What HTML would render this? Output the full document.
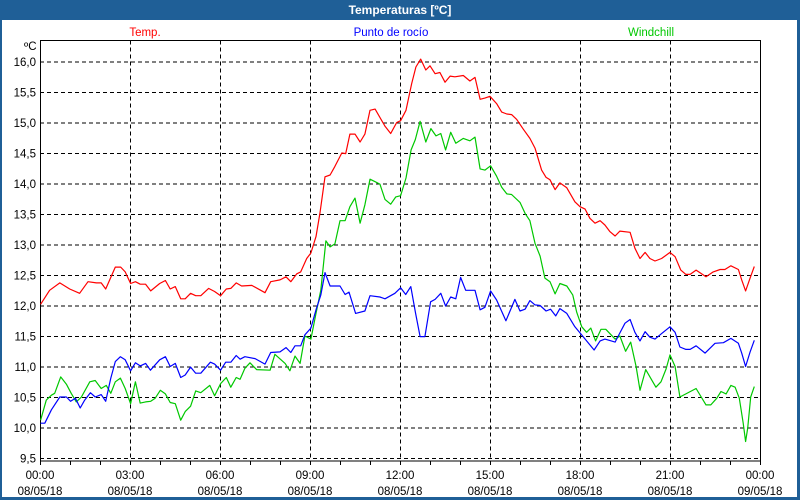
<!DOCTYPE html>
<html><head><meta charset="utf-8"><style>
body{margin:0;width:800px;height:500px;overflow:hidden;background:#fff;font-family:"Liberation Sans",sans-serif}
#wrap{position:absolute;left:0;top:0;width:800px;height:500px;background:#1f5f97}
#panel{position:absolute;left:2px;top:20px;width:795px;height:477px;background:#fff}
#title{position:absolute;left:0;top:0;width:800px;height:20px;line-height:20px;text-align:center;color:#fff;font-weight:bold;font-size:12px}
svg{position:absolute;left:0;top:0}
</style></head><body>
<div id="wrap">
<div id="title">Temperaturas [ºC]</div>
<div id="panel"></div>
<svg id="chart" width="800" height="500"></svg>
</div>
<script>
const yTicks=[9.5,10,10.5,11,11.5,12,12.5,13,13.5,14,14.5,15,15.5,16];
const xTickHours=[0,3,6,9,12,15,18,21,24];
const xTickTimes=["00:00","03:00","06:00","09:00","12:00","15:00","18:00","21:00","00:00"];
const xTickDates=["08/05/18","08/05/18","08/05/18","08/05/18","08/05/18","08/05/18","08/05/18","08/05/18","09/05/18"];
const seriesNames=["Temp.","Punto de rocío","Windchill"];
const tempH=[.02,.32,.66,.99,1.32,1.6,1.88,2.04,2.19,2.51,2.69,2.84,3.02,3.18,3.34,3.52,3.69,3.99,4.18,4.34,4.51,4.69,4.84,5.02,5.19,5.36,5.62,5.82,6.02,6.21,6.36,6.54,6.72,7.06,7.5,7.69,8,8.2,8.36,8.56,8.69,8.89,9.03,9.2,9.33,9.5,9.67,9.83,10.06,10.19,10.33,10.5,10.67,10.83,11,11.17,11.5,11.69,11.89,12.02,12.2,12.39,12.53,12.69,12.86,13,13.17,13.33,13.5,13.67,13.83,14.11,14.33,14.5,14.67,14.83,15,15.22,15.39,15.56,15.72,15.89,16.11,16.33,16.5,16.72,16.87,17,17.17,17.33,17.56,17.83,18,18.17,18.33,18.5,18.67,18.83,19,19.17,19.33,19.67,19.83,20,20.17,20.33,20.5,20.72,21,21.17,21.36,21.53,21.67,21.87,22.2,22.44,22.67,22.83,23.03,23.28,23.39,23.52,23.67,23.81];
const tempV=[12.02,12.25,12.37,12.27,12.2,12.39,12.37,12.37,12.27,12.63,12.63,12.55,12.36,12.39,12.35,12.35,12.24,12.36,12.41,12.27,12.31,12.11,12.11,12.2,12.16,12.16,12.28,12.23,12.16,12.27,12.28,12.37,12.32,12.33,12.21,12.39,12.42,12.47,12.39,12.52,12.55,12.77,12.86,13.13,13.51,14.11,14.14,14.28,14.5,14.49,14.81,14.81,14.68,14.81,15.2,15.22,14.94,14.82,15,15.03,15.2,15.64,15.91,16.04,15.86,15.93,15.8,15.82,15.66,15.76,15.75,15.77,15.68,15.74,15.38,15.4,15.43,15.31,15.17,15.14,15.13,15.05,14.89,14.74,14.58,14.22,14.1,14.06,13.9,14.01,13.93,13.7,13.62,13.58,13.43,13.35,13.39,13.32,13.21,13.14,13.22,13.2,12.94,12.77,12.87,12.77,12.73,12.77,12.87,12.8,12.58,12.51,12.51,12.58,12.47,12.55,12.59,12.59,12.65,12.59,12.42,12.24,12.45,12.64];
const dewH=[.02,.16,.38,.66,.88,1.02,1.18,1.34,1.49,1.68,1.84,2.04,2.19,2.36,2.51,2.68,2.84,3.02,3.18,3.34,3.52,3.68,3.99,4.18,4.34,4.51,4.69,4.84,5.02,5.19,5.36,5.68,5.82,6.02,6.19,6.36,6.54,6.67,6.83,7.17,7.5,7.69,8,8.2,8.36,8.5,8.69,8.83,9.03,9.2,9.36,9.5,9.67,10,10.17,10.3,10.52,10.83,11,11.33,11.5,11.83,12.02,12.19,12.36,12.52,12.67,12.83,13.02,13.17,13.36,13.52,13.69,13.86,14.02,14.19,14.5,14.67,14.83,15.02,15.22,15.53,15.83,16,16.17,16.33,16.5,16.67,16.87,17.02,17.19,17.33,17.56,17.83,18,18.22,18.47,18.67,18.83,19.17,19.33,19.5,19.67,19.83,20,20.17,20.33,20.5,20.72,21,21.17,21.33,21.53,21.67,21.87,22.17,22.5,22.78,23.03,23.28,23.39,23.52,23.67,23.81];
const dewV=[10.07,10.07,10.29,10.5,10.5,10.43,10.48,10.32,10.45,10.57,10.5,10.54,10.43,10.81,11.08,11.16,11.11,10.93,11.06,11.01,11.05,10.94,11.11,11.16,11,11.05,10.82,10.86,10.99,10.89,10.89,11.07,11.04,10.94,11.07,11.07,11.18,11.12,11.16,11.13,11.04,11.23,11.24,11.31,11.23,11.34,11.34,11.52,11.63,11.93,12.17,12.54,12.32,12.32,12.18,12.22,11.87,11.91,12.16,12.14,12.11,12.2,12.29,12.18,12.31,11.87,11.49,11.49,12.06,12.1,12.2,11.99,12.14,12.11,12.46,12.25,12.25,11.93,11.97,12.24,12.09,11.75,12.1,11.91,11.94,12.08,12.01,12,11.91,11.94,11.83,11.95,11.87,11.65,11.55,11.42,11.27,11.42,11.45,11.4,11.55,11.71,11.77,11.56,11.42,11.57,11.48,11.45,11.54,11.65,11.56,11.32,11.28,11.28,11.34,11.22,11.38,11.39,11.46,11.38,11.22,11,11.24,11.43];
const windH=[.02,.21,.38,.49,.69,.88,1.04,1.21,1.38,1.66,1.84,2.04,2.21,2.36,2.51,2.68,2.84,3.02,3.18,3.34,3.52,3.69,3.84,4.01,4.18,4.34,4.51,4.69,4.84,5.02,5.19,5.36,5.66,5.82,6.02,6.21,6.36,6.54,6.67,6.83,7,7.22,7.67,7.83,8.17,8.33,8.5,8.67,8.83,9.03,9.2,9.36,9.53,9.67,9.83,10,10.17,10.33,10.5,10.67,10.83,11,11.17,11.33,11.5,11.69,11.86,12.02,12.2,12.37,12.51,12.67,12.86,13.03,13.2,13.36,13.52,13.69,13.86,14.11,14.33,14.5,14.67,14.83,15.02,15.22,15.39,15.56,15.72,16,16.17,16.33,16.5,16.67,16.83,17,17.17,17.33,17.56,17.76,17.89,18.06,18.22,18.36,18.52,18.7,18.86,19.17,19.33,19.52,19.69,19.87,20,20.19,20.53,20.7,20.87,21,21.17,21.33,21.87,22.2,22.36,22.56,22.7,22.87,23.03,23.17,23.31,23.44,23.52,23.59,23.69,23.81];
const windV=[10.12,10.45,10.53,10.56,10.83,10.71,10.56,10.42,10.5,10.75,10.77,10.64,10.69,10.56,10.75,10.81,10.64,10.39,10.75,10.4,10.42,10.43,10.48,10.61,10.55,10.41,10.39,10.12,10.26,10.35,10.6,10.57,10.69,10.52,10.72,10.82,10.66,10.82,10.79,10.97,11.06,10.95,10.94,11.2,11.05,10.93,11.17,11.05,11.5,11.45,11.87,12.25,13.06,12.96,13.01,13.39,13.39,13.62,13.76,13.35,13.65,14.07,14.03,13.99,13.74,13.66,13.78,13.8,14.09,14.55,14.72,15.02,14.68,14.9,14.78,14.82,14.55,14.84,14.66,14.74,14.7,14.76,14.24,14.22,14.29,14.12,13.94,13.83,13.82,13.69,13.51,13.39,13.02,12.81,12.45,12.39,12.19,12.36,12.32,12.17,11.89,11.65,11.56,11.63,11.42,11.61,11.61,11.45,11.5,11.25,11.4,11,10.61,10.95,10.66,10.75,10.96,11.19,11,10.5,10.64,10.37,10.37,10.48,10.59,10.55,10.69,10.66,10.48,10.07,9.77,9.99,10.5,10.67];

const NS='http://www.w3.org/2000/svg';
const svg=document.getElementById('chart');
const L=40,R=760,T=40.5,B=461;
const xs=h=>L+h*30;
const ys=v=>61.5+(16-v)*61;
function mk(tag,attrs,parent){const e=document.createElementNS(NS,tag);for(const k in attrs)e.setAttribute(k,attrs[k]);(parent||svg).appendChild(e);return e;}
const grid=mk('g',{});


yTicks.forEach(v=>{
  const ln=mk('line',{x1:L,x2:R,y1:ys(v)+.5,y2:ys(v)+.5,stroke:'#000','stroke-dasharray':'4,3','stroke-width':1},grid);
  
  
  const t=mk('text',{x:36,y:ys(v)+4.5,'text-anchor':'end','font-size':'11.5',fill:'#000'});
  t.textContent=v.toFixed(1).replace('.',',');
  
  
});
xTickHours.forEach((h,i)=>{
  if(h>0&&h<24){const ln=mk('line',{x1:xs(h)+.5,x2:xs(h)+.5,y1:T,y2:B,stroke:'#000','stroke-dasharray':'4,3'},grid);
  
  }
  const t1=mk('text',{x:xs(h),y:479,'text-anchor':'middle','font-size':'11.5',fill:'#000'});
  t1.textContent=xTickTimes[i];
  
  
  const t2=mk('text',{x:xs(h),y:495,'text-anchor':'middle','font-size':'11.5',fill:'#000'});
  t2.textContent=xTickDates[i];
  
  
});
for(let h=0;h<=24;h++){const tk=mk('line',{x1:xs(h)+.5,x2:xs(h)+.5,y1:B,y2:B+4,stroke:'#000'});
  
  }
const box=mk('rect',{x:L+.5,y:T,width:R-L,height:B-T,fill:'none',stroke:'#000','stroke-width':1});


const unit=mk('text',{x:24,y:50,'font-size':'11.5',fill:'#000'});
unit.textContent='ºC';


const colors=['#ff0000','#0000ff','#00c800'];
const legX=[145,391,651];
seriesNames.forEach((n,i)=>{const t=mk('text',{x:legX[i],y:36,'text-anchor':'middle','font-size':'11.5',fill:colors[i]});
  t.textContent=n;
  
  });
function line(H,V,c,name){
  const p=mk('polyline',{points:H.map((h,i)=>xs(h).toFixed(1)+','+ys(V[i]).toFixed(1)).join(' '),fill:'none',stroke:c,'stroke-width':1.2,'stroke-linejoin':'round'});
  
  
}
line(windH,windV,colors[2],'windchill-line');
line(dewH,dewV,colors[1],'dewpoint-line');
line(tempH,tempV,colors[0],'temp-line');
</script>
</body></html>
